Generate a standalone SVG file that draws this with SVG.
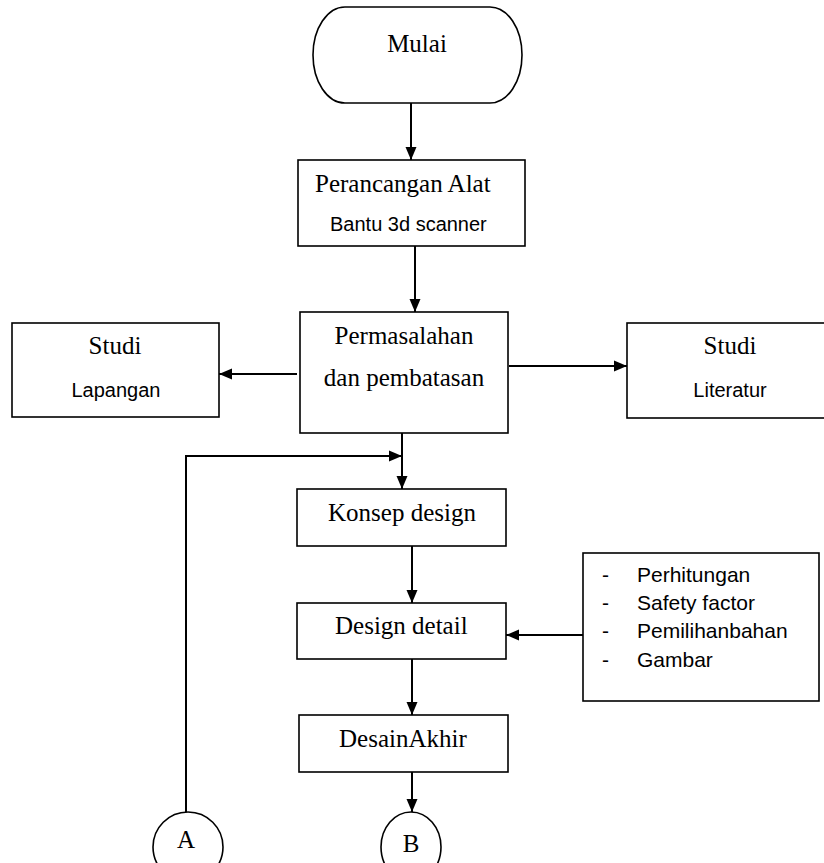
<svg xmlns="http://www.w3.org/2000/svg" width="824" height="863" viewBox="0 0 824 863">
<style>
.box{fill:#fff;stroke:#000;stroke-width:1.6}
.ser{font-family:"Liberation Serif","Times New Roman",serif;font-size:25px;fill:#000}
.san{font-family:"Liberation Sans",Arial,sans-serif;font-size:20px;fill:#000}
.lst{font-family:"Liberation Sans",Arial,sans-serif;font-size:21px;fill:#000}
.con{fill:none;stroke:#000;stroke-width:2}
</style>
<defs>
<marker id="ah" markerUnits="userSpaceOnUse" markerWidth="14" markerHeight="14" viewBox="0 0 14 14" refX="13" refY="7" orient="auto">
<path d="M0,1.5 L13,7 L0,12.5 Z" fill="#000"/>
</marker>
</defs>
<rect width="824" height="863" fill="#fff"/>
<g id="connectors">
<line class="con" x1="411" y1="103" x2="411" y2="160" marker-end="url(#ah)"/>
<line class="con" x1="415" y1="246" x2="415" y2="312" marker-end="url(#ah)"/>
<line class="con" x1="297" y1="374" x2="219" y2="374" marker-end="url(#ah)"/>
<line class="con" x1="509" y1="366" x2="627" y2="366" marker-end="url(#ah)"/>
<line class="con" x1="402" y1="433" x2="402" y2="489" marker-end="url(#ah)"/>
<polyline class="con" points="186,812 186,456 402,456" marker-end="url(#ah)"/>
<line class="con" x1="412" y1="546" x2="412" y2="603" marker-end="url(#ah)"/>
<line class="con" x1="583" y1="635" x2="506" y2="635" marker-end="url(#ah)"/>
<line class="con" x1="412" y1="659" x2="412" y2="715" marker-end="url(#ah)"/>
<line class="con" x1="412" y1="772" x2="412" y2="812" marker-end="url(#ah)"/>
</g>
<g id="mulai">
<path class="box" d="M345,7 H490 A32,48 0 0 1 490,103 H345 A32,48 0 0 1 345,7 Z"/>
<text class="ser" x="417" y="52" text-anchor="middle">Mulai</text>
</g>
<g id="perancangan">
<rect class="box" x="298" y="160" width="227" height="86"/>
<text class="ser" x="315" y="192">Perancangan Alat</text>
<text class="san" x="330" y="231">Bantu 3d scanner</text>
</g>
<g id="permasalahan">
<rect class="box" x="300" y="312" width="208" height="121"/>
<text class="ser" x="404" y="344" text-anchor="middle">Permasalahan</text>
<text class="ser" x="404" y="386" text-anchor="middle">dan pembatasan</text>
</g>
<g id="studi-lapangan">
<rect class="box" x="12" y="323" width="207" height="94"/>
<text class="ser" x="115" y="354" text-anchor="middle">Studi</text>
<text class="san" x="116" y="397" text-anchor="middle">Lapangan</text>
</g>
<g id="studi-literatur">
<rect class="box" x="627" y="323" width="200" height="95"/>
<text class="ser" x="730" y="354" text-anchor="middle">Studi</text>
<text class="san" x="730" y="397" text-anchor="middle">Literatur</text>
</g>
<g id="konsep">
<rect class="box" x="297" y="489" width="209" height="57"/>
<text class="ser" x="328" y="521">Konsep design</text>
</g>
<g id="design-detail">
<rect class="box" x="297" y="603" width="209" height="56"/>
<text class="ser" x="335" y="634">Design detail</text>
</g>
<g id="list">
<rect class="box" x="583" y="553" width="236" height="148"/>
<text class="lst" x="602" y="582">-</text><text class="lst" x="637" y="582">Perhitungan</text>
<text class="lst" x="602" y="610">-</text><text class="lst" x="637" y="610">Safety factor</text>
<text class="lst" x="602" y="638">-</text><text class="lst" x="637" y="638">Pemilihanbahan</text>
<text class="lst" x="602" y="667">-</text><text class="lst" x="637" y="667">Gambar</text>
</g>
<g id="desain-akhir">
<rect class="box" x="299" y="715" width="209" height="57"/>
<text class="ser" x="339" y="747">DesainAkhir</text>
</g>
<g id="A">
<ellipse class="box" cx="188" cy="847" rx="35" ry="35"/>
<text class="ser" x="186" y="848" text-anchor="middle">A</text>
</g>
<g id="B">
<ellipse class="box" cx="411" cy="847" rx="30" ry="35"/>
<text class="ser" x="411" y="852" text-anchor="middle">B</text>
</g>
</svg>
